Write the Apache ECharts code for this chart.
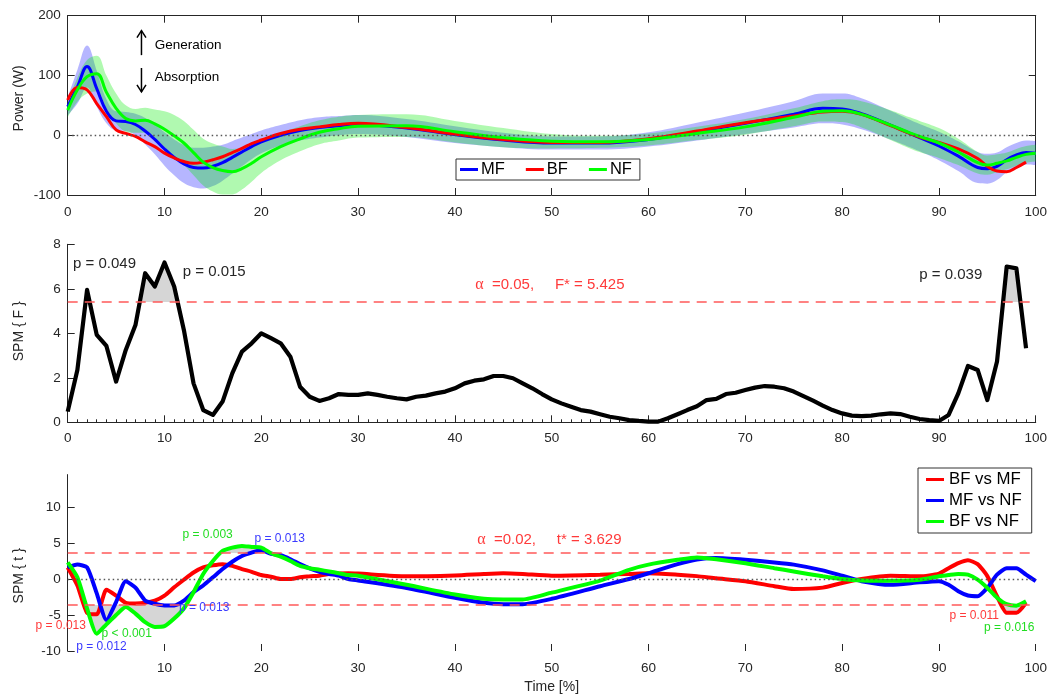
<!DOCTYPE html>
<html><head><meta charset="utf-8">
<script src="https://cdn.jsdelivr.net/npm/echarts@6/dist/echarts.min.js"></script>
<style>html,body{margin:0;padding:0;background:#fff}#c{width:1050px;height:695px}</style>
</head><body><div id="c"></div>
<script>
// ---------- DATA ----------
const timeTop = [0,1,2,3,4,5,6,7,8,9,10,11,12,13,14,15,16,17,18,19,20,22,24,26,28,30,35,40,45,50,55,60,65,70,75,78,80,82,85,87,88,90,92,94,95,96,97,98,99,100];
const mfMean = [48,81,115,78,40,24,23,18,7,-7,-23,-37,-48,-54,-55,-52,-46,-37,-28,-19,-11,0,8,13,16,18,12,1,-8,-13,-13,-7,6,20,35,45,44,36,17,3,-4,-18,-35,-54,-56,-52,-41,-33,-29,-30];
const mfSd   = [15,28,35,30,20,16,16,18,22,25,28,30,32,33,34,33,30,27,24,21,19,17,17,17,16,16,15,14,12,11,11,12,15,18,22,25,26,26,24,23,23,24,25,26,25,23,21,20,20,20];
const bfMean = [59,80,76,53,31,9,3,-2,-11,-19,-30,-38,-44,-47,-45,-41,-36,-29,-22,-14,-8,3,10,14,18,20,13,2,-7,-12,-12,-6,7,21,32,39,40,35,16,3,-3,-12,-23,-39,-52,-60,-61,-54,-45,null];
const nfMean = [42,76,98,103,72,45,28,24,25,19,10,-1,-13,-29,-45,-54,-59,-61,-56,-47,-36,-19,-6,5,11,15,16,6,-4,-10,-11,-7,3,14,30,40,41,35,17,4,-2,-13,-28,-46,-50,-47,-43,-37,-32,-30];
const nfSd   = [12,20,28,30,28,25,22,20,21,24,30,35,37,38,39,40,40,38,35,31,27,23,21,20,20,19,19,18,16,12,10,10,11,13,15,17,19,22,25,26,26,25,22,18,16,15,14,14,14,14];

const fValues = [0.48,2.35,5.95,3.93,3.43,1.83,3.25,4.37,6.70,6.10,
 7.18,6.10,4.15,1.75,0.55,0.33,0.93,2.2,3.18,3.55,
 4.0,3.78,3.55,2.95,1.60,1.15,0.96,1.08,1.27,1.23,
 1.23,1.30,1.23,1.15,1.08,1.03,1.15,1.2,1.3,1.38,
 1.53,1.75,1.87,1.93,2.08,2.08,1.98,1.75,1.53,1.27,
 1.03,0.85,0.70,0.55,0.48,0.36,0.25,0.18,0.10,0.06,
 0.03,0.03,0.18,0.36,0.55,0.72,1.0,1.05,1.27,1.33,
 1.45,1.56,1.63,1.6,1.53,1.38,1.18,0.97,0.75,0.55,
 0.40,0.30,0.28,0.30,0.36,0.40,0.37,0.25,0.15,0.10,
 0.06,0.33,1.30,2.53,2.35,1.0,2.73,7.0,6.92,3.33];
const fCrit = 5.425;

const timeBot = [0,1,2,3,4,5,6,7,8,9,10,11,12,13,14,15,16,17,18,19,20,21,22,23,24,25,26,27,28,29,
 30,35,40,43,45,47,50,55,58,60,63,65,67,70,73,75,78,80,82,85,88,90,
 91,92,93,94,95,96,97,98,99,100];
const tBFvsMF = [1.6,-0.9,-4.7,-4.9,-1.5,-2.3,-3.3,-3.4,-3.3,-3.0,-2.3,-1.15,-0.1,0.9,1.6,1.9,2.06,1.83,1.38,1.0,0.55,0.32,0.0,0.0,0.23,0.37,0.46,0.7,0.78,0.8,
 0.75,0.37,0.5,0.7,0.8,0.7,0.46,0.6,0.7,0.8,0.6,0.4,0.1,-0.3,-1.0,-1.4,-1.2,-0.55,0.0,0.46,0.37,0.75,
 1.5,2.2,2.6,2.06,0.4,-2.4,-4.7,-4.7,-3.3,null];
const tMFvsNF = [1.6,2.0,1.6,-2.0,-5.7,-3.2,-0.3,-1.2,-3.0,-3.44,-3.67,-3.67,-3.0,-1.83,-0.9,0.23,1.38,2.4,3.2,3.67,4.0,3.5,3.3,2.75,2.06,1.47,1.0,0.7,0.46,0.0,
 -0.2,-1.24,-2.6,-3.3,-3.5,-3.5,-2.75,-1.0,0.0,0.8,2.06,2.7,2.9,2.66,2.3,2.0,1.2,0.46,-0.3,-0.8,-0.46,-0.3,
 -0.8,-1.7,-2.3,-2.4,-1.24,0.6,1.5,1.5,0.6,-0.3];
const tBFvsNF = [2.3,0.23,-4.1,-7.6,-6.3,-5.0,-3.9,-4.8,-6.0,-6.65,-6.55,-5.5,-4.1,-1.83,0.7,2.5,3.9,4.36,4.6,4.45,4.36,3.58,3.1,2.5,1.83,1.5,1.28,1.05,0.8,0.55,
 0.45,-0.8,-2.16,-2.75,-2.84,-2.84,-1.9,-0.23,1.28,2.0,2.66,3.0,2.75,2.2,1.5,1.05,0.37,0.0,-0.2,-0.23,-0.1,0.37,
 0.55,0.7,0.6,-0.1,-1.24,-2.6,-3.5,-3.7,-3.1,null];
const tCrit = 3.629;

const xTicks = {min:0, max:100, interval:10};
// ---------- END DATA ----------

const pair = (xs, ys) => xs.map((x, i) => [x, ys[i]]);
const pairYX = (xs, ys) => xs.map((x, i) => [ys[i], x]); // value first, so the stack runs on the value dimension
const fTime = fValues.map((_, i) => i);
const FONT = '"Liberation Sans", Arial, Helvetica, sans-serif';
const AX = '#262626';
const GRAYFILL = '#d6d6d6';
const BLUE = '#0000ff', RED = '#ff0000', GREEN = '#00ff00';

const chart = echarts.init(document.getElementById('c'), null, {renderer:'canvas'});

const axisCommon = {
  axisLine:{show:true, onZero:false, lineStyle:{color:AX, width:1}},
  axisTick:{show:true, inside:true, length:7, lineStyle:{color:AX}},
  axisLabel:{color:AX, fontSize:13.5, fontFamily:FONT},
  splitLine:{show:false}
};
function ax(extra){ return Object.assign({}, JSON.parse(JSON.stringify(axisCommon)), extra); }

const invisLine = {opacity:0, width:0};
const bandSeries = (name, stack, data, extra) => Object.assign({
  type:'line', xAxisIndex:0, yAxisIndex:0, stack:stack, stackStrategy:'all',
  encode:{x:1, y:0},
  smooth:0.4, symbol:'none', silent:true, lineStyle:invisLine, data:data, name:name
}, extra||{});

const thrLine = {color:'#ff5a5a', width:1.5, type:[10,7]};
const zeroLine = {color:'#555', width:1.3, type:[1.5,3]};
const yName = (t, pad) => ({name:t, nameLocation:'middle', nameGap:41.5, nameMoveOverlap:false,
  nameTextStyle:{color:AX, fontSize:14, fontFamily:FONT, padding:pad}});

const option = {
  animation:false,
  backgroundColor:'#fff',
  textStyle:{fontFamily:FONT},
  grid:[
    {left:67.7, right:11.7, top:15.7, height:179.3},
    {left:67.7, right:11.7, top:244.3, height:178},
    {left:67.7, right:11.7, top:474.6, height:178.1}
  ],
  xAxis:[
    ax(Object.assign({type:'value', gridIndex:0, position:'bottom'}, xTicks, {axisLabel:{color:AX,fontSize:13.5,fontFamily:FONT,margin:10}})),
    ax(Object.assign({type:'value', gridIndex:0, position:'top'}, xTicks, {axisLabel:{show:false}})),
    ax(Object.assign({type:'value', gridIndex:1, position:'bottom'}, xTicks, {
      axisLabel:{color:AX,fontSize:13.5,fontFamily:FONT,margin:9},
      minorTick:{show:true, splitNumber:10, length:3, lineStyle:{color:AX}}
    })),
    ax(Object.assign({type:'value', gridIndex:2, position:'bottom'}, xTicks, {
      axisLine:{show:false, onZero:false},
      axisTick:{show:true, inside:true, length:7, lineStyle:{color:AX}},
      axisLabel:{color:AX,fontSize:13.5,fontFamily:FONT,margin:10, showMinLabel:false},
      name:'Time [%]', nameLocation:'middle', nameGap:29, nameMoveOverlap:false,
      nameTextStyle:{color:AX, fontSize:14, fontFamily:FONT}
    }))
  ],
  yAxis:[
    ax(Object.assign({type:'value', gridIndex:0, min:-100, max:200, interval:100,
      axisLabel:{color:AX,fontSize:13.5,fontFamily:FONT,margin:7}}, yName('Power (W)', [0,0,0,14]))),
    ax({type:'value', gridIndex:0, position:'right', min:-100, max:200, interval:100, axisLabel:{show:false}}),
    ax(Object.assign({type:'value', gridIndex:1, min:0, max:8, interval:2,
      axisLabel:{color:AX,fontSize:13.5,fontFamily:FONT,margin:7}}, yName('SPM { F }', [0,0,0,4]))),
    ax(Object.assign({type:'value', gridIndex:2, min:-10, max:14.5, interval:5,
      axisLabel:{color:AX,fontSize:13.5,fontFamily:FONT,margin:7, showMaxLabel:false}}, yName('SPM { t }', [0,26,0,0])))
  ],
  legend:[
    {data:['MF','BF','NF'], left:456, top:159, orient:'horizontal', icon:'rect',
     itemWidth:18, itemHeight:3, itemGap:21, padding:[2,8,2,4],
     backgroundColor:'#fff', borderColor:'#333', borderWidth:1, borderRadius:0,
     textStyle:{fontSize:16.5, color:'#000', fontFamily:FONT, padding:[0,0,0,-2]}, selectedMode:false},
    {data:['BF vs MF','MF vs NF','BF vs NF'], left:918, top:468, orient:'vertical', icon:'rect',
     itemWidth:18, itemHeight:3, itemGap:4, padding:[3,10,3,8],
     backgroundColor:'#fff', borderColor:'#333', borderWidth:1, borderRadius:0,
     textStyle:{fontSize:16.8, color:'#000', fontFamily:FONT, lineHeight:17}, selectedMode:false}
  ],
  visualMap:[
    {show:false, type:'piecewise', seriesIndex:7, dimension:1,
     pieces:[{gte:-100, lt:fCrit, color:'rgba(255,255,255,0)'},{gte:fCrit, lte:100, color:GRAYFILL}]},
    {show:false, type:'piecewise', seriesIndex:[9,10,11], dimension:1,
     pieces:[{gte:-100, lt:-tCrit, color:GRAYFILL},{gte:-tCrit, lte:tCrit, color:'rgba(255,255,255,0)'},{gt:tCrit, lte:100, color:GRAYFILL}]}
  ],
  series:[
    // 0,1: MF band
    bandSeries('mfLow','mf', pairYX(timeTop, mfMean.map((m,i)=>m-mfSd[i]))),
    bandSeries('mfBand','mf', pairYX(timeTop, mfSd.map(s=>2*s)), {areaStyle:{color:'rgba(20,20,255,0.31)', opacity:1}}),
    // 2: MF line
    {name:'MF', type:'line', xAxisIndex:0, yAxisIndex:0, smooth:0.4, symbol:'none',
     lineStyle:{color:BLUE, width:3}, itemStyle:{color:BLUE}, data:pair(timeTop, mfMean),
     markLine:{silent:true, symbol:['none','none'], label:{show:false}, lineStyle:zeroLine, data:[{yAxis:0}]}},
    // 3: BF line
    {name:'BF', type:'line', xAxisIndex:0, yAxisIndex:0, smooth:0.4, symbol:'none',
     lineStyle:{color:RED, width:3}, itemStyle:{color:RED}, data:pair(timeTop, bfMean)},
    // 4,5: NF band
    bandSeries('nfLow','nf', pairYX(timeTop, nfMean.map((m,i)=>m-nfSd[i]))),
    bandSeries('nfBand','nf', pairYX(timeTop, nfSd.map(s=>2*s)), {areaStyle:{color:'rgba(0,235,0,0.31)', opacity:1}}),
    // 6: NF line
    {name:'NF', type:'line', xAxisIndex:0, yAxisIndex:0, smooth:0.4, symbol:'none',
     lineStyle:{color:GREEN, width:3}, itemStyle:{color:GREEN}, data:pair(timeTop, nfMean)},
    // 7: F supra-threshold area
    {name:'fArea', type:'line', xAxisIndex:2, yAxisIndex:2, symbol:'none', silent:true,
     lineStyle:invisLine, areaStyle:{opacity:1}, data:pair(fTime, fValues)},
    // 8: F line
    {name:'SPM F', type:'line', xAxisIndex:2, yAxisIndex:2, symbol:'none',
     lineStyle:{color:'#000', width:4.2, join:'round'}, itemStyle:{color:'#000'}, data:pair(fTime, fValues), z:3,
     markLine:{silent:true, symbol:['none','none'], label:{show:false}, lineStyle:thrLine, data:[{yAxis:fCrit}]}},
    // 9-11: t areas
    {name:'a1', type:'line', xAxisIndex:3, yAxisIndex:3, symbol:'none', silent:true, smooth:0.2,
     lineStyle:invisLine, areaStyle:{opacity:1}, data:pair(timeBot, tBFvsMF)},
    {name:'a2', type:'line', xAxisIndex:3, yAxisIndex:3, symbol:'none', silent:true, smooth:0.2,
     lineStyle:invisLine, areaStyle:{opacity:1}, data:pair(timeBot, tMFvsNF)},
    {name:'a3', type:'line', xAxisIndex:3, yAxisIndex:3, symbol:'none', silent:true, smooth:0.2,
     lineStyle:invisLine, areaStyle:{opacity:1}, data:pair(timeBot, tBFvsNF)},
    // 12-14: t lines
    {name:'BF vs MF', type:'line', xAxisIndex:3, yAxisIndex:3, symbol:'none', smooth:0.2, z:3,
     lineStyle:{color:RED, width:4}, itemStyle:{color:RED}, data:pair(timeBot, tBFvsMF),
     markLine:{silent:true, symbol:['none','none'], label:{show:false},
       data:[{yAxis:tCrit, lineStyle:thrLine},{yAxis:-tCrit, lineStyle:thrLine},{yAxis:0, lineStyle:zeroLine}]}},
    {name:'MF vs NF', type:'line', xAxisIndex:3, yAxisIndex:3, symbol:'none', smooth:0.2, z:3,
     lineStyle:{color:BLUE, width:4}, itemStyle:{color:BLUE}, data:pair(timeBot, tMFvsNF)},
    {name:'BF vs NF', type:'line', xAxisIndex:3, yAxisIndex:3, symbol:'none', smooth:0.2, z:3,
     lineStyle:{color:GREEN, width:4}, itemStyle:{color:GREEN}, data:pair(timeBot, tBFvsNF)}
  ]
};
chart.setOption(option);

// ---------- annotations (anchored in data coordinates) ----------
const finders = [{xAxisIndex:0,yAxisIndex:0},{xAxisIndex:2,yAxisIndex:2},{xAxisIndex:3,yAxisIndex:3}];
const notes = [
  {g:0, x:8.99, y:151, t:'Generation', size:13.5, color:'#000', align:'left'},
  {g:0, x:8.99, y:97, t:'Absorption', size:13.5, color:'#000', align:'left'},
  {g:1, x:0.55, y:7.11, t:'p = 0.049', size:15, color:'#262626', align:'left'},
  {g:1, x:11.88, y:6.77, t:'p = 0.015', size:15, color:'#262626', align:'left'},
  {g:1, x:87.97, y:6.62, t:'p = 0.039', size:15, color:'#262626', align:'left'},
  {g:1, x:42.1, y:6.17, t:'{a|α}  =0.05,     F* = 5.425', size:15, color:'#ff3a3a', align:'left'},
  {g:2, x:42.3, y:5.4, t:'{a|α}  =0.02,     t* = 3.629', size:15, color:'#ff3a3a', align:'left'},
  {g:2, x:14.45, y:6.19, t:'p = 0.003', size:12, color:'#22dd22', align:'center'},
  {g:2, x:21.9, y:5.6, t:'p = 0.013', size:12, color:'#3a3aff', align:'center'},
  {g:2, x:14.1, y:-4.03, t:'p = 0.013', size:12, color:'#3a3aff', align:'center'},
  {g:2, x:1.88, y:-6.5, t:'p = 0.013', size:12, color:'#ff3a3a', align:'right'},
  {g:2, x:3.48, y:-9.4, t:'p = 0.012', size:12, color:'#3a3aff', align:'center'},
  {g:2, x:6.1, y:-7.57, t:'p < 0.001', size:12, color:'#22dd22', align:'center'},
  {g:2, x:93.65, y:-5.05, t:'p = 0.011', size:12, color:'#ff3a3a', align:'center'},
  {g:2, x:97.26, y:-6.74, t:'p = 0.016', size:12, color:'#22dd22', align:'center'}
];
// direction arrows next to "Generation" / "Absorption" (tail, tip in data coordinates)
const arrows = [
  {g:0, x:7.62, from:134, to:175},
  {g:0, x:7.62, from:112.5, to:72.4}
];
const graphic = notes.map(n => {
  const p = chart.convertToPixel(finders[n.g], [n.x, n.y]);
  return {type:'text', x:p[0], y:p[1], silent:true, z:100,
    style:{text:n.t, fill:n.color, fontSize:n.size, fontFamily:n.family||FONT,
      align:n.align, textAlign:n.align, verticalAlign:'middle', textVerticalAlign:'middle',
      rich:{a:{fontFamily:'"Liberation Serif", "Times New Roman", serif', fontSize:n.size+1, fill:n.color}}}};
});
arrows.forEach(a => {
  const tail = chart.convertToPixel(finders[a.g], [a.x, a.from]);
  const tip = chart.convertToPixel(finders[a.g], [a.x, a.to]);
  const dir = tip[1] < tail[1] ? 1 : -1; // 1 = pointing up
  graphic.push({type:'line', silent:true, z:100,
    shape:{x1:tail[0], y1:tail[1], x2:tip[0], y2:tip[1]}, style:{stroke:'#000', lineWidth:1.5}});
  graphic.push({type:'polyline', silent:true, z:100,
    shape:{points:[[tip[0]-4.5, tip[1]+dir*7],[tip[0], tip[1]],[tip[0]+4.5, tip[1]+dir*7]]},
    style:{stroke:'#000', lineWidth:1.5, fill:null}});
});
chart.setOption({graphic:graphic});
</script></body></html>
